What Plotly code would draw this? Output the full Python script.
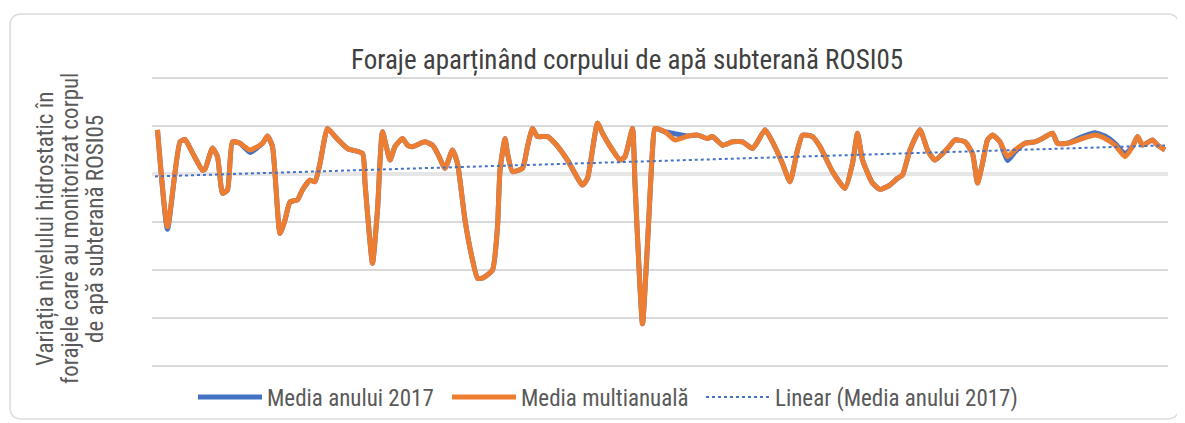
import numpy as np
import plotly.graph_objects as go

# observation index (position along the series)
obs = [1, 5, 10, 12, 15, 19, 20, 23, 25, 27, 29, 31, 34, 38, 43, 45, 47, 50, 52, 54,
       57, 59, 62, 64, 66, 69, 72, 77, 83, 84, 87, 89, 91, 94, 96, 99, 101, 103, 108, 111,
       113, 116, 119, 121, 124, 127, 129, 131, 135, 137, 138, 140, 141, 143, 147, 149, 151, 153, 157, 160,
       165, 171, 173, 177, 179, 183, 186, 188, 191, 192, 195, 197, 199, 200, 204, 208, 213, 217, 221, 223,
       227, 231, 235, 239, 241, 244, 247, 251, 254, 257, 259, 263, 266, 271, 276, 279, 281, 283, 287, 290,
       294, 297, 299, 302, 306, 309, 312, 317, 320, 324, 327, 329, 331, 333, 335, 338, 341, 344, 348, 352,
       355, 359, 361, 365, 371, 376, 380, 384, 388, 391, 393, 395, 399, 401, 404]

media_multianuala = [0.92, -1.10, 0.67, 0.72, 0.44, 0.08, 0.10, 0.54, 0.36, -0.40,
                     -0.33, 0.67, 0.64, 0.50, 0.64, 0.79, 0.57, -1.24, -0.96, -0.58,
                     -0.54, -0.33, -0.13, -0.16, 0.22, 0.95, 0.78, 0.53, 0.43, -0.19,
                     -1.86, -0.75, 0.88, 0.29, 0.57, 0.74, 0.60, 0.57, 0.67, 0.60,
                     0.43, 0.12, 0.50, 0.22, -0.96, -1.79, -2.17, -2.17, -2.00, -1.10,
                     0.08, 0.74, 0.43, 0.05, 0.12, 0.57, 0.95, 0.78, 0.78, 0.64,
                     0.29, -0.23, -0.09, 1.06, 0.85, 0.50, 0.29, 0.36, 0.95, -0.20,
                     -3.12, -1.45, 0.50, 0.95, 0.88, 0.71, 0.79, 0.81, 0.74, 0.78,
                     0.60, 0.67, 0.67, 0.53, 0.67, 0.92, 0.67, 0.22, -0.16, 0.50,
                     0.81, 0.78, 0.57, 0.05, -0.30, 0.22, 0.85, 0.29, -0.19, -0.32,
                     -0.23, -0.09, -0.02, 0.50, 0.92, 0.50, 0.29, 0.53, 0.71, 0.67,
                     0.43, -0.19, 0.22, 0.71, 0.81, 0.67, 0.36, 0.50, 0.64, 0.67,
                     0.74, 0.85, 0.64, 0.64, 0.74, 0.81, 0.74, 0.60, 0.36, 0.57,
                     0.78, 0.60, 0.71, 0.60, 0.50]

media_2017 = [0.92, -1.15, 0.67, 0.72, 0.44, 0.08, 0.10, 0.54, 0.36, -0.40,
              -0.33, 0.67, 0.64, 0.45, 0.64, 0.79, 0.57, -1.24, -0.96, -0.58,
              -0.54, -0.33, -0.13, -0.16, 0.22, 0.95, 0.78, 0.53, 0.43, -0.19,
              -1.86, -0.75, 0.88, 0.29, 0.57, 0.74, 0.60, 0.57, 0.67, 0.60,
              0.43, 0.12, 0.50, 0.22, -0.96, -1.79, -2.17, -2.17, -2.00, -1.10,
              0.08, 0.74, 0.43, 0.05, 0.12, 0.57, 0.95, 0.78, 0.78, 0.64,
              0.29, -0.23, -0.09, 1.06, 0.85, 0.50, 0.29, 0.36, 0.95, -0.20,
              -3.12, -1.45, 0.50, 0.95, 0.88, 0.84, 0.79, 0.81, 0.74, 0.78,
              0.60, 0.67, 0.67, 0.53, 0.67, 0.92, 0.67, 0.22, -0.16, 0.50,
              0.81, 0.78, 0.57, 0.05, -0.30, 0.22, 0.85, 0.29, -0.19, -0.32,
              -0.23, -0.09, -0.02, 0.50, 0.92, 0.50, 0.29, 0.53, 0.71, 0.67,
              0.43, -0.19, 0.22, 0.71, 0.81, 0.67, 0.28, 0.46, 0.64, 0.67,
              0.74, 0.85, 0.64, 0.64, 0.78, 0.86, 0.79, 0.64, 0.42, 0.57,
              0.78, 0.60, 0.71, 0.60, 0.50]

y_ticks = [-4, -3, -2, -1, 0, 1, 2]

title_text = "Foraje aparținând corpului de apă subterană ROSI05"
ytitle_lines = ["Variația nivelului hidrostatic în",
                "forajele care au monitorizat corpul",
                "de apă subterană ROSI05"]

FONT = "Roboto Condensed, DejaVu Sans Condensed, Liberation Sans Narrow, Roboto, sans-serif"

# linear trend of Media anului 2017
coef = np.polyfit(obs, media_2017, 1)
trend_x = [0, 404]
trend_y = list(np.polyval(coef, trend_x))

fig = go.Figure()
fig.add_trace(go.Scatter(x=obs, y=media_2017, mode="lines", name="Media anului 2017",
                         line=dict(color="#4472C4", width=5, shape="spline", smoothing=0.5)))
fig.add_trace(go.Scatter(x=obs, y=media_multianuala, mode="lines", name="Media multianuală",
                         line=dict(color="#ED7D31", width=5, shape="spline", smoothing=0.5)))
fig.add_trace(go.Scatter(x=trend_x, y=trend_y, mode="lines", name="Linear (Media anului 2017)",
                         legendwidth=280,
                         line=dict(color="#4472C4", width=2, dash="dot")))

OFF = 8  # page body margin
W, H = 1185 - OFF, 423 - OFF
PAD = 3  # extra px so the edge gridlines are drawn
L, R, T, B = 152 - OFF, 1168 - OFF, 78 - OFF - PAD, 366 - OFF + PAD
UNIT = (366 - 78) / 6.0
y_range = [y_ticks[0] - PAD / UNIT, y_ticks[-1] + PAD / UNIT]

def px(x):  # reference pixel x -> paper
    return (x - OFF - L) / (R - L)
def py(y):  # reference pixel y -> paper
    return (B - (y - OFF)) / (B - T)

x0, x1, y0, y1, r = 10, 1179, 14, 419, 12
path = (f"M {px(x0 + r)} {py(y0)} L {px(x1 - r)} {py(y0)} Q {px(x1)} {py(y0)} {px(x1)} {py(y0 + r)} "
        f"L {px(x1)} {py(y1 - r)} Q {px(x1)} {py(y1)} {px(x1 - r)} {py(y1)} "
        f"L {px(x0 + r)} {py(y1)} Q {px(x0)} {py(y1)} {px(x0)} {py(y1 - r)} "
        f"L {px(x0)} {py(y0 + r)} Q {px(x0)} {py(y0)} {px(x0 + r)} {py(y0)} Z")

annotations = [dict(text=t, textangle=-90, x=px(xc), y=py(229), xref="paper", yref="paper",
                    xanchor="center", yanchor="middle", showarrow=False,
                    font=dict(family=FONT, size=23, color="#595959"))
               for t, xc in zip(ytitle_lines, [45, 70, 95])]

fig.update_layout(
    width=W, height=H,
    margin=dict(l=L, r=W - R, t=T, b=H - B, autoexpand=False),
    paper_bgcolor="white", plot_bgcolor="white",
    title=dict(text=title_text, xref="paper", x=px(627), xanchor="center",
               yref="container", y=1 - (60 - OFF) / H, yanchor="middle",
               font=dict(family=FONT, size=27, color="#404040")),
    showlegend=True,
    legend=dict(orientation="h", x=px(193), xanchor="left", y=py(397), yanchor="middle",
                font=dict(family=FONT, size=23, color="#595959"), itemwidth=64,
                entrywidth=175, bgcolor="rgba(0,0,0,0)"),
    xaxis=dict(range=[(152 - 155) / 2.5, (1168 - 155) / 2.5], showgrid=False, zeroline=False,
               showticklabels=False, ticks="", showline=False),
    yaxis=dict(range=y_range, tickvals=y_ticks, showticklabels=False, ticks="",
               showgrid=True, gridcolor="#d9d9d9", gridwidth=1.5,
               zeroline=True, zerolinecolor="#e6e6e6", zerolinewidth=4, showline=False),
    shapes=[dict(type="path", path=path, xref="paper", yref="paper",
                 line=dict(color="#dcdcdc", width=1.5), fillcolor="rgba(0,0,0,0)", layer="below")],
    annotations=annotations,
)

fig.write_html("out.html")
